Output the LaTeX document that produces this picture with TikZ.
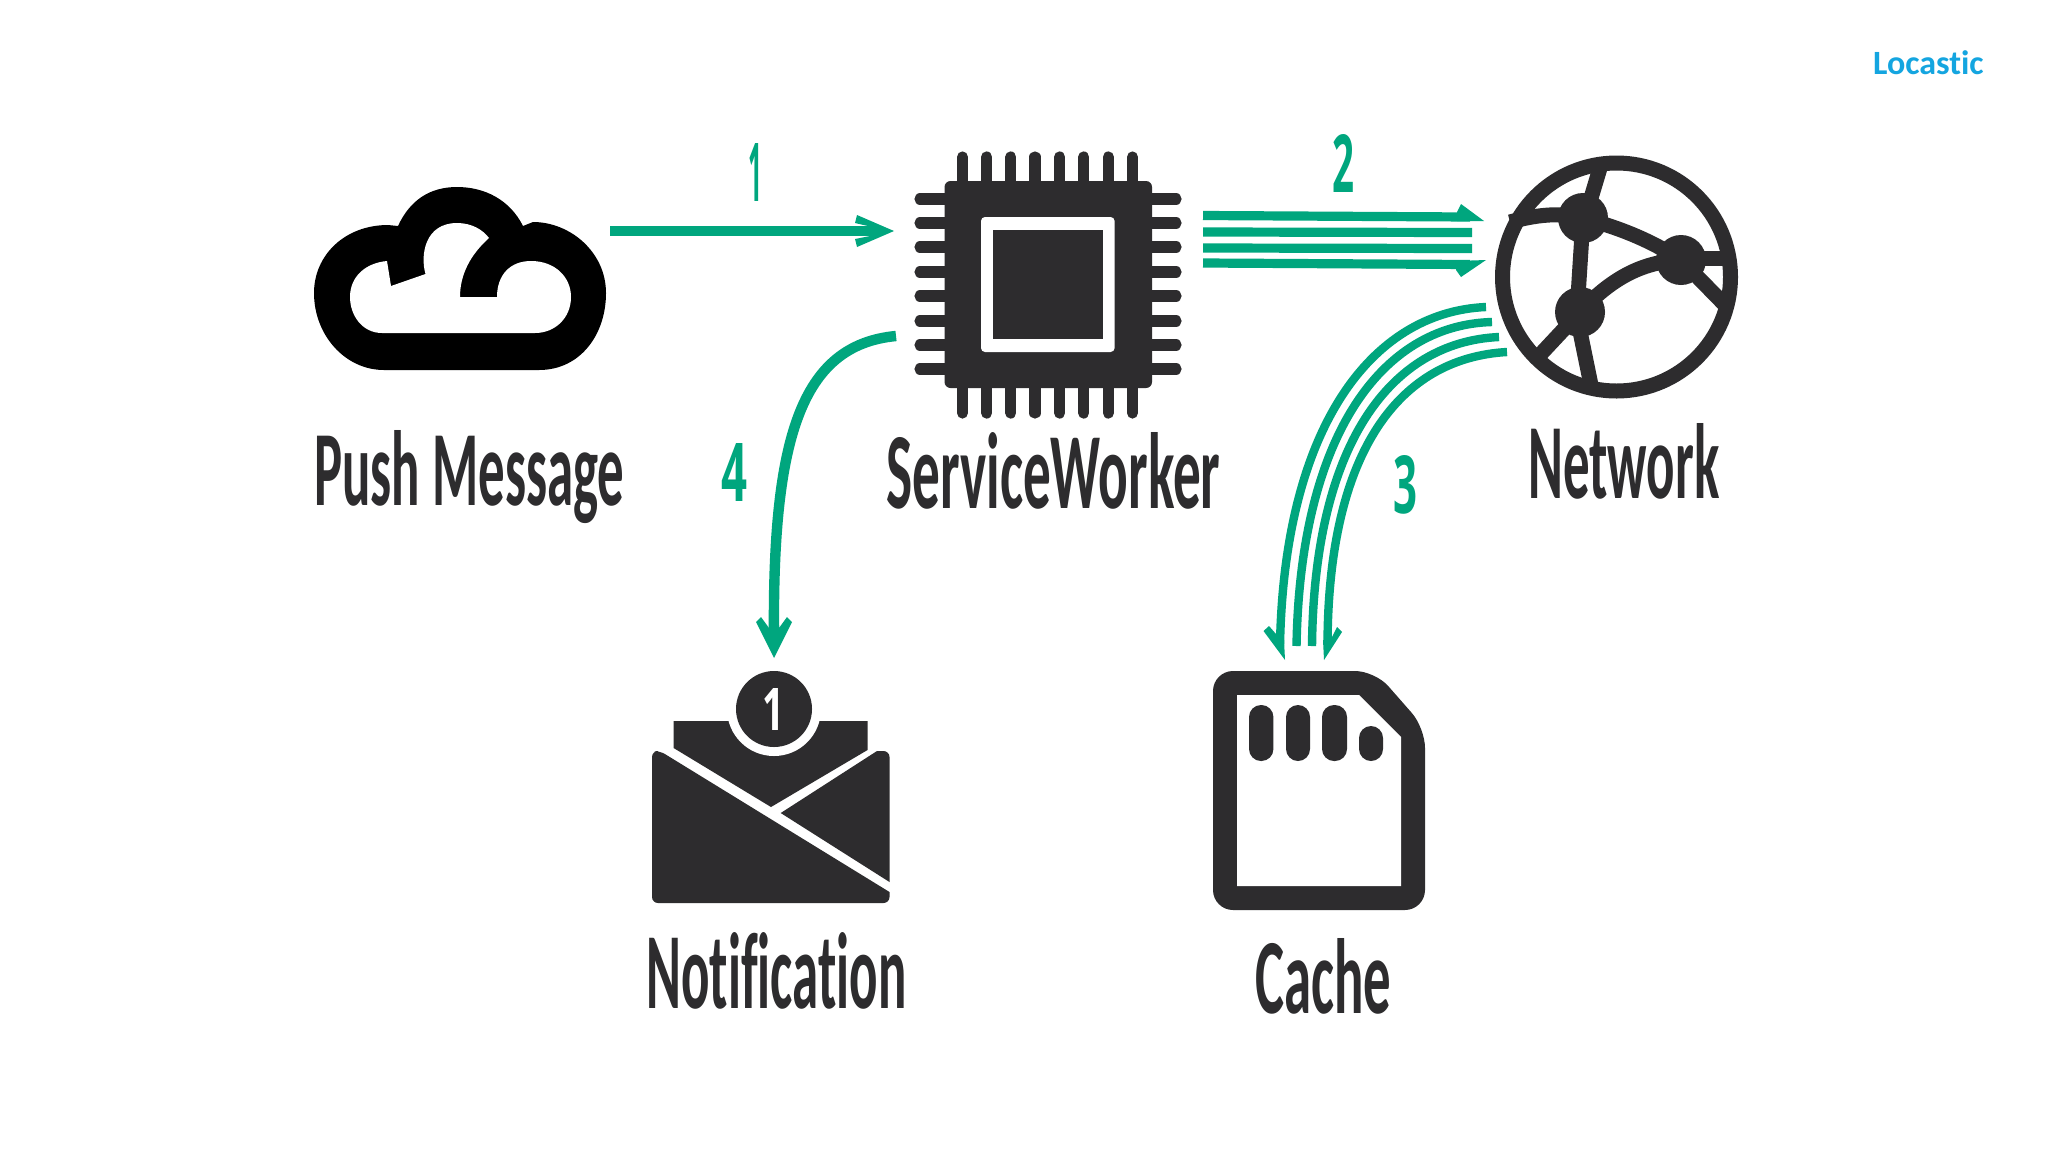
\documentclass[tikz,border=0pt]{standalone}
\usepackage{fontspec}
\setmainfont{Carlito}[Ligatures=NoCommon]
\newfontfamily\handfont{Carlito}[Ligatures=NoCommon,BoldFont={Carlito Bold}]
\newfontfamily\numfont{Open Sans}
\definecolor{flow}{RGB}{0,166,126}
\definecolor{ink}{RGB}{45,44,46}
\definecolor{brand}{RGB}{20,165,224}
\newcommand\handtext[3]{\resizebox{#1}{#2}{\handfont\bfseries #3}}
\newcommand\numtext[3]{\resizebox{#1}{#2}{\numfont\bfseries #3}}
\tikzset{
  label/.style={anchor=base west,inner sep=0pt,text=ink},
  numlabel/.style={anchor=center,inner sep=0pt,text=flow},
  flowline/.style={draw=flow,line width=4.6pt},
  flowcurve/.style={draw=flow,line width=4.2pt},
  flowhead/.style={fill=flow},
  pin/.style={draw=ink,line width=5.6pt,line cap=round},
  globeline/.style={draw=ink,line width=7.5pt},
}
\begin{document}
\begin{tikzpicture}[x=0.5pt,y=-0.5pt]
\useasboundingbox (0,0) rectangle (2048,1152);
\fill[white] (0,0) rectangle (2048,1152);

% ---- connector end points
\coordinate (pushOut) at (610,231);
\coordinate (swIn) at (875,231);
\coordinate (swA) at (1203,215.5);
\coordinate (netA) at (1470,217);
\coordinate (swB) at (1203,232);
\coordinate (netB) at (1472,232.5);
\coordinate (swC) at (1203,248);
\coordinate (netC) at (1472,248.5);
\coordinate (swD) at (1203,263);
\coordinate (netD) at (1470,264.5);
\coordinate (netE) at (1486,307);
\coordinate (netF) at (1492,322);
\coordinate (netG) at (1499,337);
\coordinate (netH) at (1507,352);
\coordinate (cacheE) at (1280,645);
\coordinate (cacheF) at (1296.5,646);
\coordinate (cacheG) at (1312,646);
\coordinate (cacheH) at (1327.5,645);
\coordinate (swOut) at (896,336);
\coordinate (noteIn) at (774,640);

% ---- cloud
\fill[black] (384,370) -- (539,370) .. controls (580,370) and (606,335) .. (606,293)
  .. controls (606,252) and (570,222) .. (533,222) -- (523,226)
  .. controls (510,200) and (485,187) .. (457,187)
  .. controls (430,187) and (410,200) .. (398,226) -- (388,225)
  .. controls (345,225) and (314,255) .. (314,293)
  .. controls (314,335) and (345,370) .. (384,370) -- cycle;
\fill[white] (387,261) -- (391,286) -- (425.5,274)
  .. controls (420,255) and (425,223) .. (457,223)
  .. controls (472,223) and (483,230) .. (489,238)
  .. controls (470,255) and (460,275) .. (460,297) -- (497,297)
  .. controls (497,275) and (510,261) .. (531,261)
  .. controls (555,261) and (571,277) .. (571,297)
  .. controls (571,318) and (555,333) .. (535,333) -- (382,333)
  .. controls (362,333) and (350,315) .. (350,297)
  .. controls (350,277) and (365,263) .. (387,261) -- cycle;

% ---- chip
\foreach \x in {962.5,986.6,1010.8,1035,1059.6,1083.7,1108.4,1132.5} {
  \draw[pin] (\x,157) -- (\x,185);
  \draw[pin] (\x,385) -- (\x,413);
}
\foreach \y in {199,223,247,272,296,321,345,369} {
  \draw[pin] (920,\y) -- (948,\y);
  \draw[pin] (1148,\y) -- (1176,\y);
}
\fill[ink,rounded corners=3pt] (944.5,181) rectangle (1152,388);
\fill[white,rounded corners=2pt] (981,217) rectangle (1114.6,352);
\fill[ink] (993,230) rectangle (1103,339);

% ---- globe
\draw[draw=ink,line width=7.5pt] (1616.5,277) circle[radius=114];
\draw[globeline] (1600,168) -- (1585,218);
\draw[globeline] (1510,222) .. controls (1535,215) and (1560,212) .. (1583,218);
\draw[globeline] (1583,218) -- (1577,312);
\draw[globeline] (1583,218) .. controls (1620,228) and (1650,240) .. (1681,260);
\draw[globeline] (1580,312) .. controls (1610,280) and (1640,262) .. (1681,260);
\draw[globeline] (1681,258) -- (1727,258);
\draw[globeline] (1681,260) -- (1724,304);
\draw[globeline] (1580,312) -- (1537,358);
\draw[globeline] (1576,312) -- (1592,390);
\fill[ink] (1583,218) circle[radius=25];
\fill[ink] (1681,260) circle[radius=25];
\fill[ink] (1580,312) circle[radius=25];

% ---- envelope
\fill[ink] (673.6,721) -- (867.5,721) -- (867.5,750) -- (771,807) -- (673.6,748) -- cycle;
\fill[ink,rounded corners=3pt] (652,751) -- (660,751) [sharp corners] -- (889.5,892) [rounded corners=3pt] -- (889.5,903) -- (652,903) -- cycle;
\fill[ink] (780.7,813) -- (877,751) [rounded corners=3pt] -- (889.5,751) [sharp corners] -- (889.5,882) -- cycle;
\fill[white] (774,709) circle[radius=47];
\fill[ink] (774,709) circle[radius=38];
\node[anchor=center,inner sep=0pt,text=white] (badge) at (773,709) {\resizebox{11pt}{21pt}{\numfont\bfseries 1}};

% ---- memory card
\fill[ink,rounded corners=10pt] (1213,671) -- (1375,671) -- (1425,728) -- (1425,910) -- (1213,910) -- cycle;
\fill[white] (1237,695) -- (1359,695) -- (1401,737) -- (1401,886) -- (1237,886) -- cycle;
\fill[ink,rounded corners=6pt] (1249,705) rectangle (1273.4,761);
\fill[ink,rounded corners=6pt] (1286,705) rectangle (1310,761);
\fill[ink,rounded corners=6pt] (1322,705) rectangle (1347,761);
\fill[ink,rounded corners=6pt] (1359,726) rectangle (1383,761);

% ---- connectors
\draw[flowline] (pushOut) -- (swIn);
\fill[flowhead] (894,231) -- (857,247) -- (855,239) -- (870,236) -- (870,226.5) -- (855,223) -- (857,215) -- cycle;

\draw[flowline] (swA) -- (netA);
\draw[flowline] (swB) -- (netB);
\draw[flowline] (swC) -- (netC);
\draw[flowline] (swD) -- (netD);
\fill[flowhead] (1461,204) -- (1484,221) -- (1457,221) -- (1457,212) -- cycle;
\fill[flowhead] (1486,260) -- (1461,277) -- (1456,270) -- (1456,261) -- cycle;

\draw[flowcurve] (netE) .. controls (1370,312) and (1284,430) .. (cacheE);
\draw[flowcurve] (netF) .. controls (1380,325) and (1300,438) .. (cacheF);
\draw[flowcurve] (netG) .. controls (1390,342) and (1314,445) .. (cacheG);
\draw[flowcurve] (netH) .. controls (1400,358) and (1328,450) .. (cacheH);
\fill[flowhead] (1285,660) -- (1284,640) -- (1276,640) -- (1276,634) -- (1269,626) -- (1263.5,631) -- cycle;
\fill[flowhead] (1324,660) -- (1323,640) -- (1332,640) -- (1332,637) -- (1337,627) -- (1342,632) -- cycle;

\draw[draw=flow,line width=5.2pt] (swOut) .. controls (800,345) and (772,440) .. (noteIn);
\fill[flowhead] (774,658) -- (756,622) -- (761,617) -- (769,628) -- (769,625) -- (779,625) -- (779,628) -- (787,617) -- (792,622) -- cycle;

% ---- labels
\node[label] (pushLabel) at (314,505) {\handtext{155pt}{37.5pt}{Push Message}};
\node[label] (swLabel) at (886,508) {\handtext{167pt}{38pt}{ServiceWorker}};
\node[label] (netLabel) at (1528,498) {\handtext{95.5pt}{37.5pt}{Network}};
\node[label] (noteLabel) at (646,1008) {\handtext{130pt}{38pt}{Notification}};
\node[label] (cacheLabel) at (1255,1013) {\handtext{68pt}{37.5pt}{Cache}};

\node[numlabel] (numOne) at (755,172) {\numtext{7pt}{29pt}{1}};
\node[numlabel] (numTwo) at (1343,163) {\numtext{11pt}{29pt}{2}};
\node[numlabel] (numThree) at (1405,485) {\numtext{12pt}{29pt}{3}};
\node[numlabel] (numFour) at (734,472) {\numtext{13pt}{29pt}{4}};

\node[anchor=base east,inner sep=0pt,text=brand,font=\fontsize{17pt}{20pt}\selectfont\bfseries] (brandLabel) at (1984,74) {Locastic};
\end{tikzpicture}
\end{document}
